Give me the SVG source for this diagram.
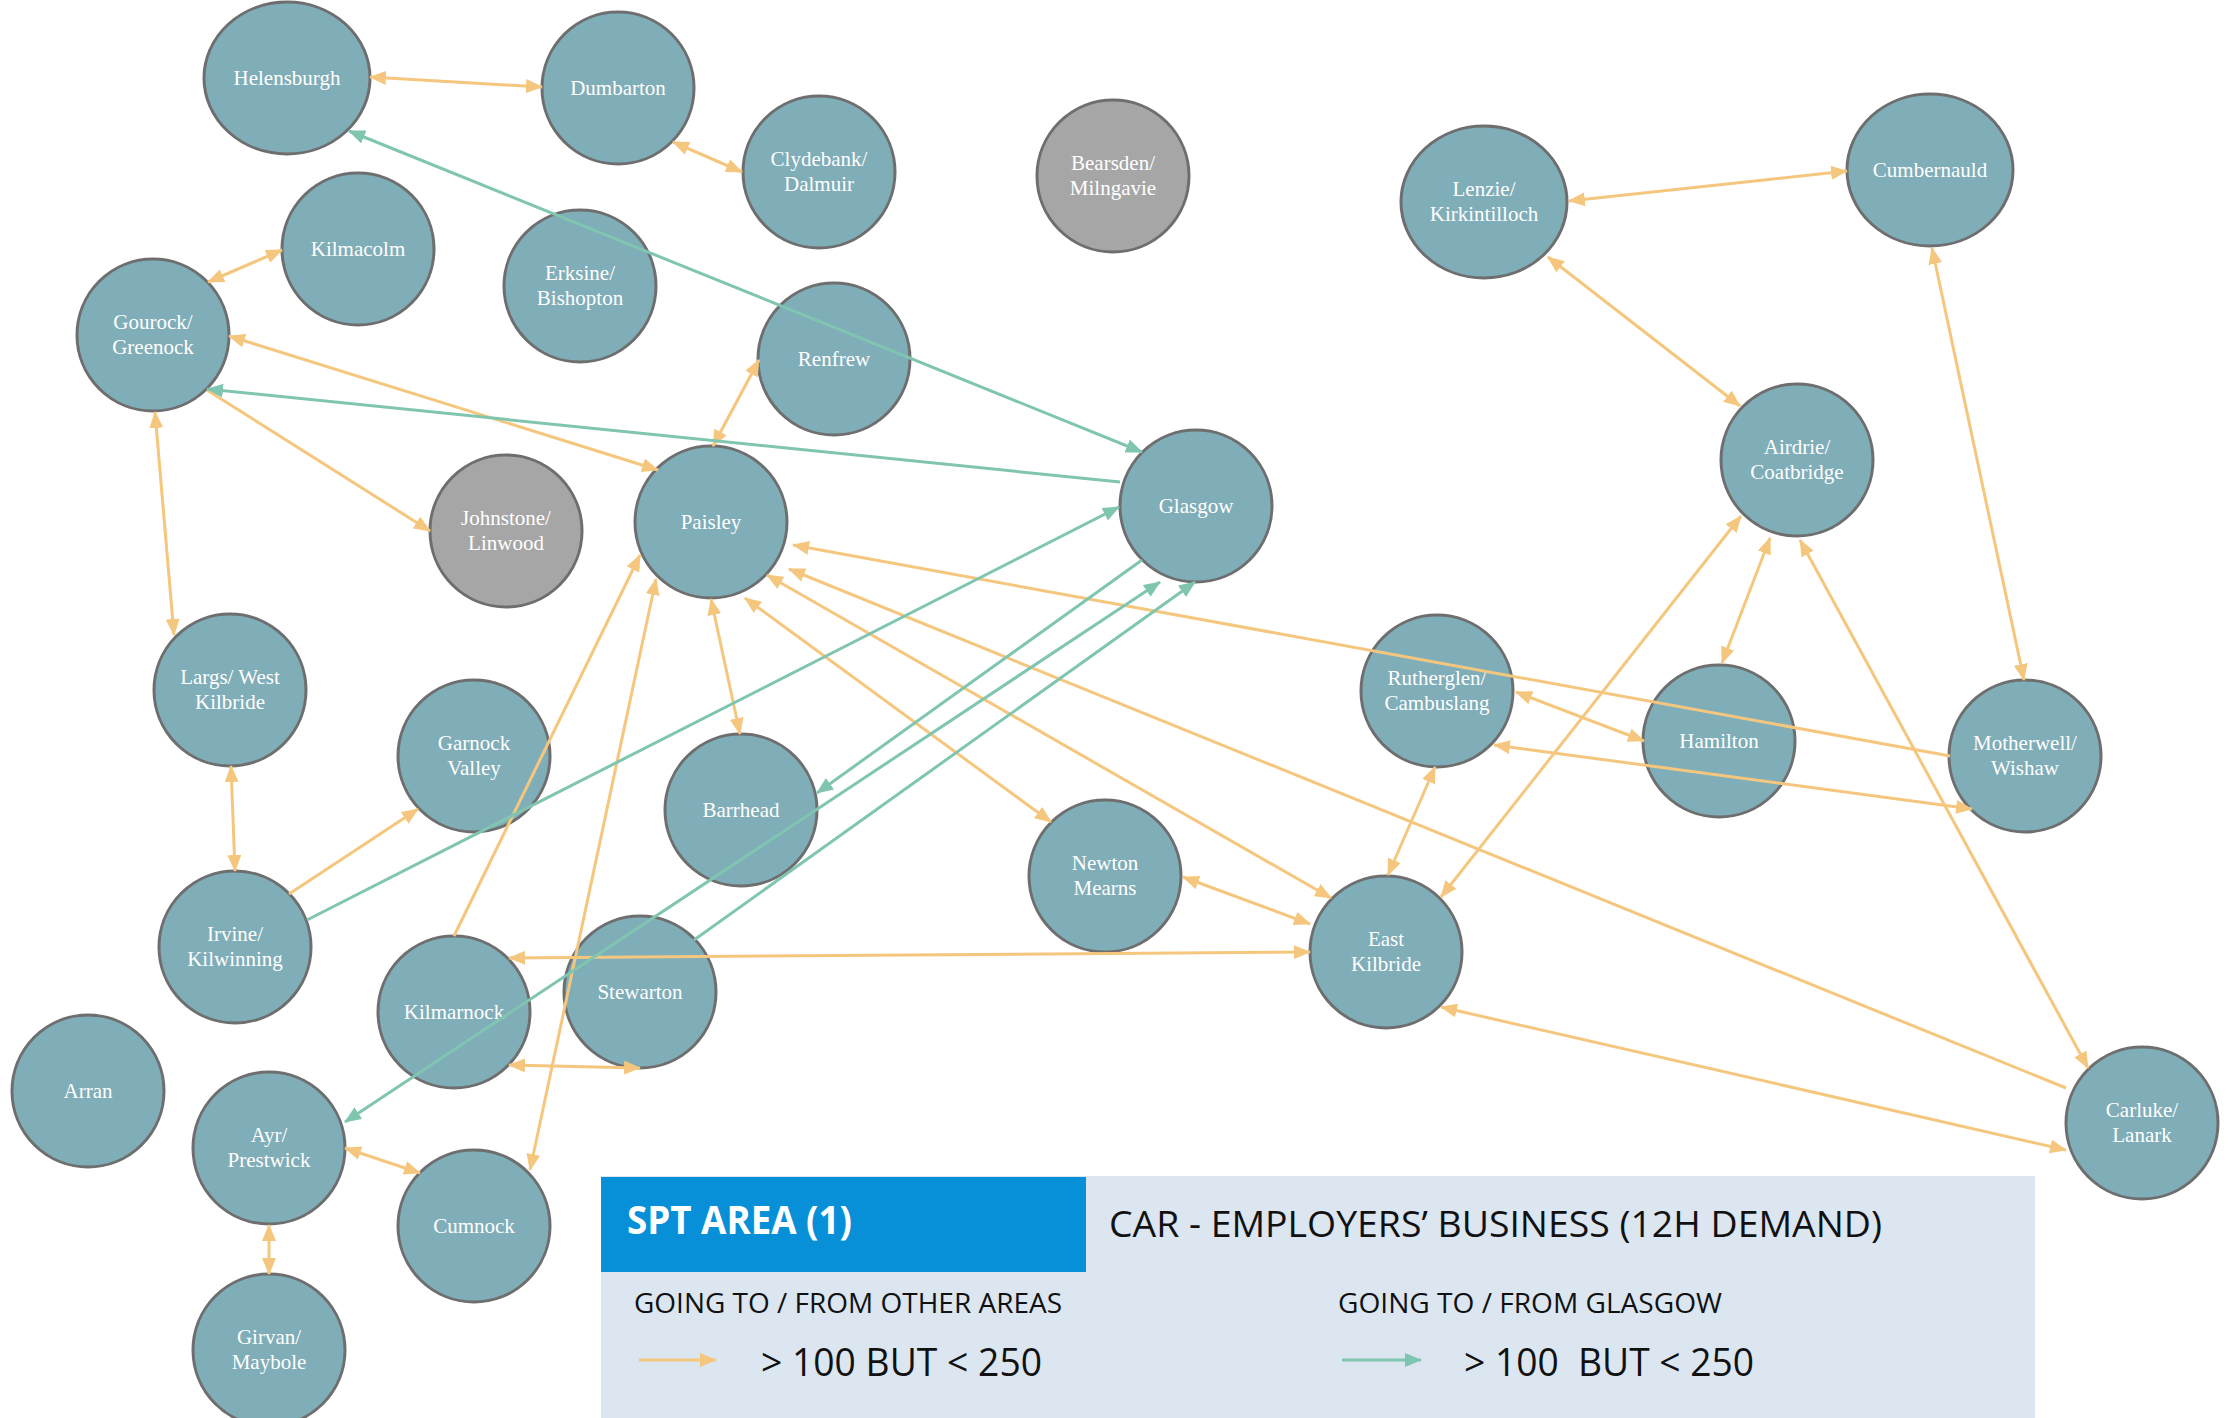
<svg xmlns="http://www.w3.org/2000/svg" width="2229" height="1418" viewBox="0 0 2229 1418">
<style>
.node ellipse{fill:#7FADB8;stroke:#6E6E6E;stroke-width:3}
.grey ellipse{fill:#A6A6A6}
.node text{font-family:"Liberation Serif",serif;font-size:21px;fill:#FFFFFF;text-anchor:middle}
.o{stroke:#F5C77E;stroke-width:3;fill:none}
.g{stroke:#80C5B0;stroke-width:3;fill:none}
.ob{marker-start:url(#ao);marker-end:url(#ao)}
.oe{marker-end:url(#ao)}
.gb{marker-start:url(#ag);marker-end:url(#ag)}
.ge{marker-end:url(#ag)}
.lg{font-family:"Open Sans","Noto Sans",sans-serif;fill:#111111}
</style>
<defs>
<marker id="ao" markerUnits="userSpaceOnUse" viewBox="0 0 17 14" markerWidth="17" markerHeight="14" refX="16" refY="7" orient="auto-start-reverse"><path d="M0,0 L17,7 L0,14 z" fill="#F5C77E"/></marker>
<marker id="ag" markerUnits="userSpaceOnUse" viewBox="0 0 17 14" markerWidth="17" markerHeight="14" refX="16" refY="7" orient="auto-start-reverse"><path d="M0,0 L17,7 L0,14 z" fill="#80C5B0"/></marker>
</defs>
<rect width="2229" height="1418" fill="#FFFFFF"/>
<g id="nodes">
<g id="helensburgh" class="node"><ellipse cx="287" cy="78" rx="83" ry="76"/><text x="287" y="85">Helensburgh</text></g>
<g id="dumbarton" class="node"><ellipse cx="618" cy="88" rx="76" ry="76"/><text x="618" y="95">Dumbarton</text></g>
<g id="clydebank" class="node"><ellipse cx="819" cy="172" rx="76" ry="76"/><text x="819" y="166">Clydebank/</text><text x="819" y="191">Dalmuir</text></g>
<g id="bearsden" class="node grey"><ellipse cx="1113" cy="176" rx="76" ry="76"/><text x="1113" y="170">Bearsden/</text><text x="1113" y="195">Milngavie</text></g>
<g id="kilmacolm" class="node"><ellipse cx="358" cy="249" rx="76" ry="76"/><text x="358" y="256">Kilmacolm</text></g>
<g id="erksine" class="node"><ellipse cx="580" cy="286" rx="76" ry="76"/><text x="580" y="280">Erksine/</text><text x="580" y="305">Bishopton</text></g>
<g id="gourock" class="node"><ellipse cx="153" cy="335" rx="76" ry="76"/><text x="153" y="329">Gourock/</text><text x="153" y="354">Greenock</text></g>
<g id="renfrew" class="node"><ellipse cx="834" cy="359" rx="76" ry="76"/><text x="834" y="366">Renfrew</text></g>
<g id="johnstone" class="node grey"><ellipse cx="506" cy="531" rx="76" ry="76"/><text x="506" y="525">Johnstone/</text><text x="506" y="550">Linwood</text></g>
<g id="paisley" class="node"><ellipse cx="711" cy="522" rx="76" ry="76"/><text x="711" y="529">Paisley</text></g>
<g id="glasgow" class="node"><ellipse cx="1196" cy="506" rx="76" ry="76"/><text x="1196" y="513">Glasgow</text></g>
<g id="largs" class="node"><ellipse cx="230" cy="690" rx="76" ry="76"/><text x="230" y="684">Largs/ West</text><text x="230" y="709">Kilbride</text></g>
<g id="garnock" class="node"><ellipse cx="474" cy="756" rx="76" ry="76"/><text x="474" y="750">Garnock</text><text x="474" y="775">Valley</text></g>
<g id="barrhead" class="node"><ellipse cx="741" cy="810" rx="76" ry="76"/><text x="741" y="817">Barrhead</text></g>
<g id="newtonmearns" class="node"><ellipse cx="1105" cy="876" rx="76" ry="76"/><text x="1105" y="870">Newton</text><text x="1105" y="895">Mearns</text></g>
<g id="irvine" class="node"><ellipse cx="235" cy="947" rx="76" ry="76"/><text x="235" y="941">Irvine/</text><text x="235" y="966">Kilwinning</text></g>
<g id="kilmarnock" class="node"><ellipse cx="454" cy="1012" rx="76" ry="76"/><text x="454" y="1019">Kilmarnock</text></g>
<g id="stewarton" class="node"><ellipse cx="640" cy="992" rx="76" ry="76"/><text x="640" y="999">Stewarton</text></g>
<g id="eastkilbride" class="node"><ellipse cx="1386" cy="952" rx="76" ry="76"/><text x="1386" y="946">East</text><text x="1386" y="971">Kilbride</text></g>
<g id="arran" class="node"><ellipse cx="88" cy="1091" rx="76" ry="76"/><text x="88" y="1098">Arran</text></g>
<g id="ayr" class="node"><ellipse cx="269" cy="1148" rx="76" ry="76"/><text x="269" y="1142">Ayr/</text><text x="269" y="1167">Prestwick</text></g>
<g id="cumnock" class="node"><ellipse cx="474" cy="1226" rx="76" ry="76"/><text x="474" y="1233">Cumnock</text></g>
<g id="girvan" class="node"><ellipse cx="269" cy="1350" rx="76" ry="76"/><text x="269" y="1344">Girvan/</text><text x="269" y="1369">Maybole</text></g>
<g id="lenzie" class="node"><ellipse cx="1484" cy="202" rx="83" ry="76"/><text x="1484" y="196">Lenzie/</text><text x="1484" y="221">Kirkintilloch</text></g>
<g id="cumbernauld" class="node"><ellipse cx="1930" cy="170" rx="83" ry="76"/><text x="1930" y="177">Cumbernauld</text></g>
<g id="airdrie" class="node"><ellipse cx="1797" cy="460" rx="76" ry="76"/><text x="1797" y="454">Airdrie/</text><text x="1797" y="479">Coatbridge</text></g>
<g id="rutherglen" class="node"><ellipse cx="1437" cy="691" rx="76" ry="76"/><text x="1437" y="685">Rutherglen/</text><text x="1437" y="710">Cambuslang</text></g>
<g id="hamilton" class="node"><ellipse cx="1719" cy="741" rx="76" ry="76"/><text x="1719" y="748">Hamilton</text></g>
<g id="motherwell" class="node"><ellipse cx="2025" cy="756" rx="76" ry="76"/><text x="2025" y="750">Motherwell/</text><text x="2025" y="775">Wishaw</text></g>
<g id="carluke" class="node"><ellipse cx="2142" cy="1123" rx="76" ry="76"/><text x="2142" y="1117">Carluke/</text><text x="2142" y="1142">Lanark</text></g>
</g>
<g id="connectors">
<line class="o ob" x1="370" y1="77" x2="542" y2="87"/>
<line class="o ob" x1="673" y1="142" x2="742" y2="172"/>
<line class="o ob" x1="282" y1="250" x2="208" y2="282"/>
<line class="o ob" x1="229" y1="336" x2="658" y2="470"/>
<line class="o oe" x1="207" y1="390" x2="430" y2="531"/>
<line class="o ob" x1="155" y1="412" x2="174" y2="635"/>
<line class="o ob" x1="759" y1="360" x2="713" y2="446"/>
<line class="o ob" x1="711" y1="599" x2="740" y2="734"/>
<line class="o ob" x1="745" y1="598" x2="1051" y2="822"/>
<line class="o ob" x1="767" y1="575" x2="1331" y2="898"/>
<line class="o oe" x1="2066" y1="1088" x2="789" y2="569"/>
<line class="o oe" x1="1950" y1="756" x2="793" y2="545"/>
<line class="o oe" x1="454" y1="936" x2="640" y2="555"/>
<line class="o ob" x1="530" y1="1170" x2="656" y2="579"/>
<line class="o ob" x1="231" y1="766" x2="235" y2="871"/>
<line class="o oe" x1="289" y1="894" x2="418" y2="809"/>
<line class="o ob" x1="509" y1="958" x2="1310" y2="952"/>
<line class="o ob" x1="509" y1="1065" x2="640" y2="1068"/>
<line class="o ob" x1="345" y1="1148" x2="420" y2="1173"/>
<line class="o ob" x1="269" y1="1225" x2="269" y2="1274"/>
<line class="o ob" x1="1183" y1="877" x2="1310" y2="924"/>
<line class="o ob" x1="1435" y1="767" x2="1388" y2="875"/>
<line class="o ob" x1="1516" y1="692" x2="1644" y2="741"/>
<line class="o ob" x1="1494" y1="745" x2="1972" y2="809"/>
<line class="o ob" x1="1741" y1="516" x2="1441" y2="897"/>
<line class="o ob" x1="1770" y1="538" x2="1722" y2="663"/>
<line class="o ob" x1="1800" y1="540" x2="2088" y2="1068"/>
<line class="o ob" x1="1548" y1="257" x2="1740" y2="406"/>
<line class="o ob" x1="1569" y1="201" x2="1847" y2="171"/>
<line class="o ob" x1="1932" y1="248" x2="2024" y2="680"/>
<line class="o ob" x1="1441" y1="1007" x2="2066" y2="1150"/>
<line class="g gb" x1="1142" y1="452" x2="349" y2="131"/>
<line class="g ge" x1="1120" y1="482" x2="207" y2="389"/>
<line class="g ge" x1="307" y1="920" x2="1119" y2="507"/>
<line class="g ge" x1="1142" y1="560" x2="817" y2="793"/>
<line class="g gb" x1="345" y1="1122" x2="1160" y2="582"/>
<line class="g ge" x1="694" y1="940" x2="1195" y2="582"/>
</g>
<g id="legend">
<rect x="601" y="1176" width="1434" height="242" fill="#DCE6F1"/>
<rect x="601" y="1177" width="485" height="95" fill="#078FD7"/>
<text class="lg" x="627" y="1234" font-size="39" font-weight="bold" fill="#FFFFFF" style="fill:#FFFFFF" textLength="225" lengthAdjust="spacingAndGlyphs">SPT AREA (1)</text>
<text class="lg" x="1109" y="1237" font-size="37" textLength="773" lengthAdjust="spacingAndGlyphs">CAR - EMPLOYERS’ BUSINESS (12H DEMAND)</text>
<text class="lg" x="634" y="1313" font-size="28" textLength="428" lengthAdjust="spacingAndGlyphs">GOING TO / FROM OTHER AREAS</text>
<line class="o oe" x1="639" y1="1360" x2="716" y2="1360"/>
<text class="lg" x="761" y="1376" font-size="38" textLength="281" lengthAdjust="spacingAndGlyphs">&gt; 100 BUT &lt; 250</text>
<text class="lg" x="1338" y="1313" font-size="28" textLength="384" lengthAdjust="spacingAndGlyphs">GOING TO / FROM GLASGOW</text>
<line class="g ge" x1="1342" y1="1360" x2="1421" y2="1360"/>
<text class="lg" x="1464" y="1376" font-size="38" textLength="290" lengthAdjust="spacingAndGlyphs" style="white-space:pre">&gt; 100  BUT &lt; 250</text>
</g>
</svg>
